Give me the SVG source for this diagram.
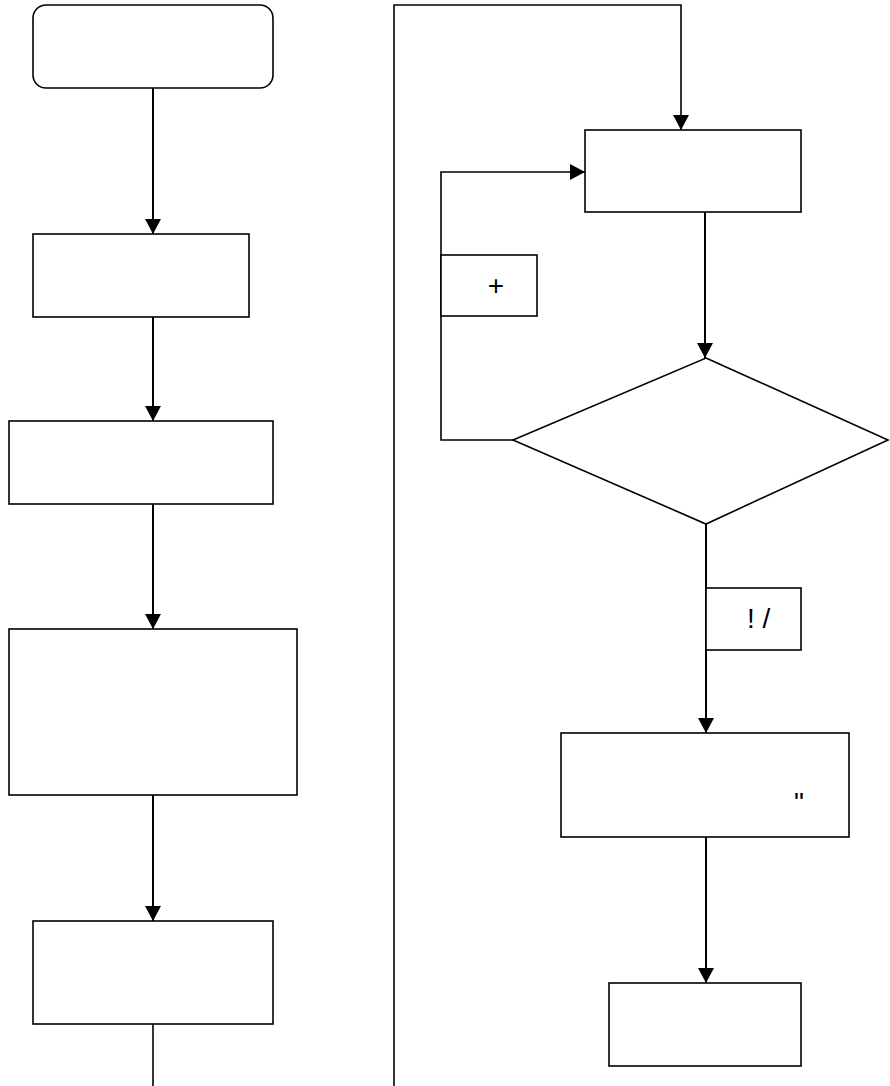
<svg xmlns="http://www.w3.org/2000/svg" width="890" height="1086" viewBox="0 0 890 1086">
<style>
.n{fill:#fff;stroke:#000;stroke-width:1.6}
.c{fill:none;stroke:#000;stroke-width:2}
.t{font-family:"Liberation Sans",Arial,sans-serif;font-size:28px;fill:#000}
</style>
<defs>
<marker id="ah" viewBox="0 0 15 16" refX="15" refY="8" markerWidth="15" markerHeight="16" orient="auto" markerUnits="userSpaceOnUse">
<path d="M0,0 L15,8 L0,16 Z" fill="#000"/>
</marker>
</defs>
<rect width="890" height="1086" fill="#fff"/>
<g id="connectors">
<line class="c" x1="153" y1="88" x2="153" y2="234" marker-end="url(#ah)"/>
<line class="c" x1="153" y1="317" x2="153" y2="421" marker-end="url(#ah)"/>
<line class="c" x1="153" y1="504" x2="153" y2="629" marker-end="url(#ah)"/>
<line class="c" x1="153" y1="795" x2="153" y2="921" marker-end="url(#ah)"/>
<line class="c" x1="153" y1="1024" x2="153" y2="1086" style="stroke-width:1.6"/>
<polyline class="c" points="394,1086 394,5 681,5 681,130" marker-end="url(#ah)" style="stroke-width:1.6"/>
<line class="c" x1="705" y1="212" x2="705" y2="358" marker-end="url(#ah)"/>
<polyline class="c" points="513,440 441,440 441,172 585,172" marker-end="url(#ah)" style="stroke-width:1.6"/>
<line class="c" x1="706" y1="524" x2="706" y2="733" marker-end="url(#ah)"/>
<line class="c" x1="706" y1="837" x2="706" y2="983" marker-end="url(#ah)"/>
</g>
<g id="start"><rect class="n" x="33" y="5" width="240" height="83" rx="13"/></g>
<g id="box2"><rect class="n" x="33" y="234" width="216" height="83"/></g>
<g id="box3"><rect class="n" x="9" y="421" width="264" height="83"/></g>
<g id="box4"><rect class="n" x="9" y="629" width="288" height="166"/></g>
<g id="box5"><rect class="n" x="33" y="921" width="240" height="103"/></g>
<g id="box6"><rect class="n" x="585" y="130" width="216" height="82"/></g>
<g id="decision"><polygon class="n" points="706,358 888,440 706,524 513,440"/></g>
<g id="label-plus"><rect class="n" x="441" y="255" width="96" height="61"/><text class="t" x="496" y="295" text-anchor="middle">+</text></g>
<g id="label-excl"><rect class="n" x="706" y="588" width="95" height="62"/><text class="t" x="747" y="628">! /</text></g>
<g id="box7"><rect class="n" x="561" y="733" width="288" height="104"/><text class="t" x="794" y="812">"</text></g>
<g id="box8"><rect class="n" x="609" y="983" width="192" height="83"/></g>
</svg>
